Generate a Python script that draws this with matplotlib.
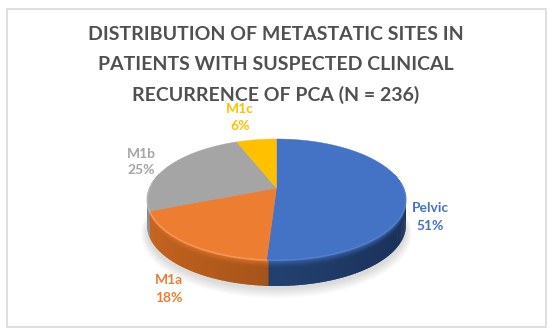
import numpy as np
import matplotlib
matplotlib.use('Agg')
import matplotlib.pyplot as plt
from matplotlib.patches import Rectangle, Ellipse
from matplotlib.colors import to_rgb

labels = ['Pelvic', 'M1a', 'M1b', 'M1c']
values = [51, 18, 25, 6]
colors = ['#4472c4', '#ed7d31', '#a5a5a5', '#ffc000']
rim_colors = ['#3a64ad', '#dd7329', '#999999', '#e0a800']
side_light = ['#22406f', '#c8651f', '#8a8a8a', '#bf9000']
side_dark = ['#1a2f57', '#a3521a', '#666666', '#8f6c00']
highlight = ['#5b86d2', '#f6a66c', '#c0c0c0', '#ffd050']
label_colors = ['#4472c4', '#ed7d31', '#a5a5a5', '#ffc000']
title_lines = ['DISTRIBUTION OF METASTATIC SITES IN',
               'PATIENTS WITH SUSPECTED CLINICAL',
               'RECURRENCE OF PCA (N = 236)']

cx, R, c, a, b = 276.5, 127.0, 0.19, -22.6, 188.0
depth = 26
bevel = 8


def project(theta):
    # theta clockwise from the top, flat disc seen in perspective
    u, v = np.sin(theta), np.cos(theta)
    w = 1 + c * v
    return cx + R * u / w, (a * v + b) / w


fig = plt.figure(figsize=(5.5, 3.32), dpi=100)
ax = fig.add_axes([0, 0, 1, 1])
ax.set_xlim(0, 550)
ax.set_ylim(332, 0)
ax.axis('off')
ax.add_patch(Rectangle((6.5, 8.5), 539, 318, fc='white', ec='#d9d9d9', lw=1.2))

# soft shadow under the pie
for i in range(12):
    ax.add_patch(Ellipse((cx, 231 + i * 0.3), 258 + i * 1.2, 116 + i * 1.1, fc='#000000',
                         alpha=0.012, ec='none', zorder=1))

edges = np.cumsum([0] + values) / sum(values) * 2 * np.pi

# side wall, only the front part shows
for k in range(4):
    th = np.linspace(edges[k], edges[k + 1], max(2, int(values[k] * 4)))
    for t0, t1 in zip(th[:-1], th[1:]):
        if np.cos((t0 + t1) / 2) > 0.25:
            continue
        # overlap the neighbouring slice so no seams show
        if k == 0:
            x0, y0 = project(t0)
            x1, y1 = project(t1 + 0.012)
        else:
            x0, y0 = project(t0 - 0.012)
            x1, y1 = project(t1)
        f = abs(np.sin((t0 + t1) / 2))
        col = np.array(to_rgb(side_light[k])) * f + np.array(to_rgb(side_dark[k])) * (1 - f)
        if k == 0:
            col = np.array(to_rgb(side_dark[k])) * f + np.array(to_rgb(side_light[k])) * (1 - f)
        ax.fill([x0, x1, x1, x0], [y0, y1, y1 + depth, y0 + depth], color=col, lw=0, zorder=2)
        # rounded edge just under the rim
        for j in range(bevel):
            m = (1 - j / bevel) ** 1.5
            ax.fill([x0, x1, x1, x0], [y0 + j, y1 + j, y1 + j + 1.3, y0 + j + 1.3],
                    color=np.array(to_rgb(rim_colors[k])) * m + col * (1 - m), lw=0, zorder=2.1)

# top faces
for k in range(4):
    th = np.linspace(edges[k], edges[k + 1], 120)
    x, y = project(th)
    ax.fill(np.r_[cx, x], np.r_[b, y], color=colors[k], lw=0.3, zorder=3)
    # light line along the front rim
    front = np.cos(th) < 0.1
    ax.plot(x[front], y[front] + 0.3, color=highlight[k], lw=1.1, alpha=0.75, zorder=3.5)

for line, ty in zip(title_lines, [35, 65, 95]):
    ax.text(276, ty, line, ha='center', va='center', fontsize=14, fontweight='bold',
            family='Lato', color='#505050', zorder=5)

label_pos = [(430, 217), (169, 289), (141, 162), (240, 117.5)]
for name, v, col, (lx, ly) in zip(labels, values, label_colors, label_pos):
    ax.text(lx, ly, '%s\n%d%%' % (name, v), ha='center', va='center', fontsize=10, fontweight='bold',
            family='Lato', color=col, linespacing=1.5, zorder=5)

fig.savefig('out.png', dpi=100)
